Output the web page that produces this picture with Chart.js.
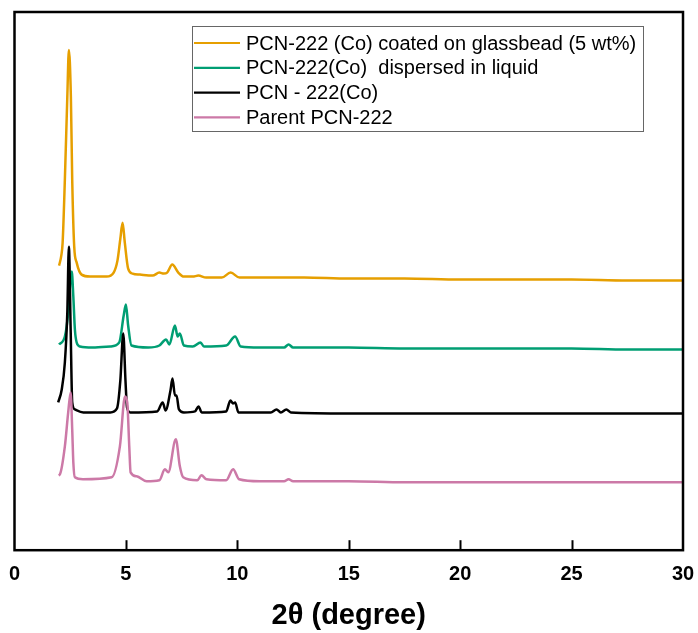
<!DOCTYPE html>
<html>
<head>
<meta charset="utf-8">
<script src="https://cdn.jsdelivr.net/npm/chart.js@4/dist/chart.umd.min.js"></script>
<style>
  html, body { margin: 0; padding: 0; background: #fff; }
  #wrap { width: 698px; height: 633px; position: relative; }
</style>
</head>
<body>
<div id="wrap"><canvas id="c" width="698" height="633"></canvas></div>
<script>
// ---- Data (2θ in degrees, intensity in arbitrary offset units) ----
const seriesLabels = [
  "PCN-222 (Co) coated on glassbead (5 wt%)",
  "PCN-222(Co)  dispersed in liquid",
  "PCN - 222(Co)",
  "Parent PCN-222"
];
const xTicks = [0, 5, 10, 15, 20, 25, 30];

const glassX = [2.0, 2.1, 2.16, 2.26, 2.37, 2.44, 2.53, 2.59, 2.68, 2.79, 3.01, 3.39, 4.13, 4.45, 4.62, 4.75, 4.85, 4.95, 5.1, 5.3, 5.63, 6.2, 6.5, 6.7, 6.85, 7.08, 7.35, 7.6, 8.0, 8.25, 8.6, 9.3, 9.7, 10.1, 11, 13, 15, 17.5, 20, 22.5, 25, 27.5, 30];
const glassY = [285, 295, 308, 371, 454, 501, 454, 371, 304, 288, 276, 274, 274, 278, 290, 312, 328, 308, 282, 277, 276, 275, 278, 277, 278, 286, 278, 274, 274, 275, 273, 273, 278, 273, 273, 273, 272, 272, 271, 271, 271, 270, 270];

const liquidX = [2.0, 2.26, 2.41, 2.49, 2.57, 2.64, 2.71, 2.79, 2.94, 3.5, 4.3, 4.7, 4.9, 5.0, 5.1, 5.25, 6.0, 6.5, 6.8, 6.95, 7.2, 7.32, 7.42, 7.6, 8.0, 8.35, 8.5, 9.5, 9.9, 10.15, 11, 12.1, 12.3, 12.5, 15, 17.5, 20, 22.5, 25, 27.5, 30];
const liquidY = [206, 214, 238, 264, 279, 254, 221, 208, 204, 203, 204, 208, 235, 246, 225, 205, 203, 205, 211, 206, 225, 214, 217, 205, 204, 208, 204, 205, 214, 204, 203, 203, 206, 203, 203, 202, 202, 202, 202, 201, 201];

const coX = [1.96, 2.12, 2.26, 2.37, 2.44, 2.52, 2.59, 2.71, 3.09, 4.3, 4.6, 4.75, 4.88, 4.98, 5.05, 5.2, 6.4, 6.65, 6.78, 7.0, 7.09, 7.2, 7.27, 7.38, 7.6, 8.1, 8.26, 8.4, 9.5, 9.69, 9.8, 9.9, 10.05, 11.5, 11.76, 11.95, 12.2, 12.4, 15, 17.5, 20, 22.5, 25, 27.5, 30];
const coY = [148, 161, 188, 238, 304, 221, 148, 141, 138, 138, 142, 170, 217, 170, 143, 138, 139, 148, 140, 160, 172, 155, 155, 141, 138, 139, 144, 138, 139, 150, 147, 148, 138, 138, 141, 138, 141, 138, 137, 137, 137, 137, 137, 137, 137];

const parentX = [1.98, 2.04, 2.26, 2.41, 2.52, 2.59, 2.64, 2.71, 3.07, 4.36, 4.73, 4.96, 5.06, 5.15, 5.21, 5.48, 5.93, 6.5, 6.75, 6.9, 7.24, 7.42, 7.57, 8.2, 8.39, 8.62, 9.5, 9.81, 10.08, 11, 12.1, 12.3, 12.5, 15, 17.5, 20, 22.5, 25, 27.5, 30];
const parentY = [75, 76, 104, 138, 158, 121, 88, 73, 71, 73, 104, 154, 148, 104, 78, 74, 69, 70, 81, 78, 111, 84, 73, 70, 75, 71, 70, 81, 71, 69, 69, 71, 69, 69, 68, 68, 68, 68, 68, 68];

const colors = ["#E69F00", "#009E73", "#000000", "#CC79A7"];

function pts(xs, ys) { return xs.map((x, i) => ({ x: x, y: ys[i] })); }

const allX = [glassX, liquidX, coX, parentX];
const allY = [glassY, liquidY, coY, parentY];
const drawOrder = [3, 2, 1, 0];

const datasets = seriesLabels.map((lab, i) => ({
  label: lab,
  data: pts(allX[i], allY[i]),
  borderColor: colors[i],
  backgroundColor: colors[i],
  borderWidth: 2.5,
  pointRadius: 0,
  cubicInterpolationMode: 'monotone',
  fill: false,
  order: drawOrder[i]
}));

const framePlugin = {
  id: 'frame',
  afterDraw(chart) {
    const { ctx, chartArea: a, scales } = chart;
    const xs = scales.x;
    ctx.save();
    ctx.strokeStyle = '#000';
    ctx.lineWidth = 2.5;
    ctx.strokeRect(a.left, a.top, a.right - a.left, a.bottom - a.top);
    ctx.lineWidth = 2;
    xTicks.forEach(t => {
      if (t === xs.min || t === xs.max) return;
      const px = Math.round(xs.getPixelForValue(t)) + 0.5;
      ctx.beginPath();
      ctx.moveTo(px, a.bottom);
      ctx.lineTo(px, a.bottom - 10);
      ctx.stroke();
    });
    // legend
    const lx = 192, ly = 26, lw = 451, lh = 105;
    ctx.lineWidth = 1;
    ctx.strokeStyle = '#666';
    ctx.strokeRect(lx + 0.5, ly + 0.5, lw, lh);
    ctx.font = '20px "Liberation Sans", Arial, sans-serif';
    ctx.textBaseline = 'middle';
    ctx.textAlign = 'left';
    chart.data.datasets.forEach((ds, i) => {
      const y = 43 + i * 24.8;
      ctx.strokeStyle = ds.borderColor;
      ctx.lineWidth = 2.2;
      ctx.beginPath();
      ctx.moveTo(194, y);
      ctx.lineTo(240, y);
      ctx.stroke();
      ctx.fillStyle = '#000';
      ctx.fillText(ds.label, 246, y + 1);
    });
    ctx.restore();
  }
};

new Chart(document.getElementById('c'), {
  type: 'line',
  data: { datasets },
  options: {
    responsive: false,
    animation: false,
    devicePixelRatio: 1,
    layout: { padding: { left: 14.5, right: 15, top: 12, bottom: 0 } },
    plugins: { legend: { display: false }, tooltip: { enabled: false } },
    scales: {
      x: {
        type: 'linear',
        min: 0, max: 30,
        afterBuildTicks(scale) { scale.ticks = xTicks.map(v => ({ value: v })); },
        afterFit(scale) { scale.paddingLeft = 0; scale.paddingRight = 0; },
        grid: { display: false, drawTicks: false },
        border: { display: false },
        ticks: {
          padding: 12,
          color: '#000',
          font: { family: '"Liberation Sans", Arial, sans-serif', size: 20, weight: 'bold' },
          maxRotation: 0,
          autoSkip: false
        },
        title: {
          display: true,
          text: '2θ (degree)',
          color: '#000',
          font: { family: '"Liberation Sans", Arial, sans-serif', size: 29, weight: 'bold' },
          padding: { top: 0, bottom: 0 }
        }
      },
      y: {
        display: false,
        min: 0,
        max: 539
      }
    }
  },
  plugins: [framePlugin]
});
</script>
</body>
</html>
